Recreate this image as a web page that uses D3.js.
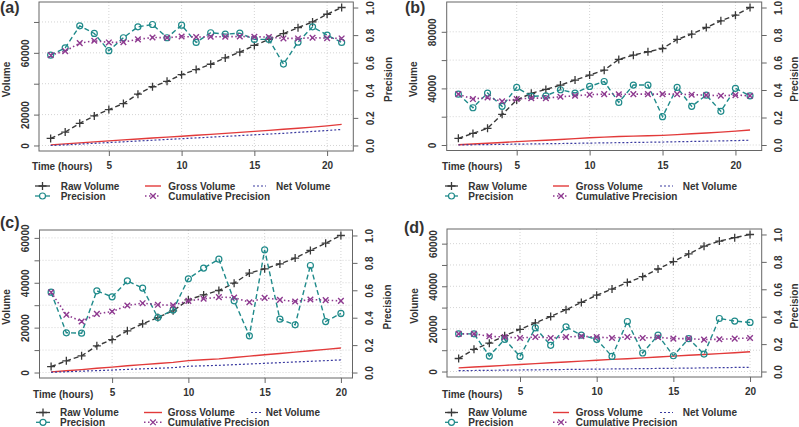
<!DOCTYPE html>
<html><head><meta charset="utf-8">
<script src="https://cdn.jsdelivr.net/npm/d3@7"></script>
<style>
body{margin:0;background:#fff}
svg{display:block}
text{font-family:"Liberation Sans",Arial,Helvetica,sans-serif;font-weight:bold;fill:#333}
</style></head>
<body><svg width="799" height="427"></svg>
<script>
// ---------------- DATA ----------------
const panelLabels = ["(a)", "(b)", "(c)", "(d)"];
const legendNames = ["Raw Volume", "Gross Volume", "Net Volume", "Precision", "Cumulative Precision"];
const xTickValues = [5, 10, 15, 20];
const xAxisTitle = "Time (hours)";
const yLeftTitle = "Volume";
const yRightTitle = "Precision";
const precTickValues = [0, 0.2, 0.4, 0.6, 0.8, 1.0];
const precTickLabels = ["0.0", "0.2", "0.4", "0.6", "0.8", "1.0"];

// panel (a)
const hoursA = [1,2,3,4,5,6,7,8,9,10,11,12,13,14,15,16,17,18,19,20,21];
const rawA = [4565,8700,14350,19130,23260,27170,33260,38040,41520,45870,49130,52600,56700,60430,64780,68700,72400,76300,80000,85000,89350];
const grossA = [400,1050,1700,2350,3000,3600,4200,4800,5400,6000,6600,7200,7850,8500,9150,9800,10500,11200,11900,12700,13700];
const netA = [0,400,900,1400,1900,2400,2900,3400,3900,4400,4900,5400,5900,6400,6900,7400,7900,8500,9100,9700,10400];
const precA = [0.655,0.708,0.867,0.812,0.687,0.781,0.860,0.877,0.781,0.872,0.747,0.817,0.807,0.814,0.769,0.769,0.590,0.749,0.860,0.800,0.747];
const cumA = [0.655,0.684,0.742,0.759,0.747,0.749,0.769,0.783,0.781,0.790,0.786,0.788,0.788,0.790,0.788,0.786,0.776,0.776,0.781,0.778,0.776];
const volTicksA = [0,20000,40000,60000,80000];
const volLabelsA = ["0","20000","","60000",""];

// panel (b)
const hoursB = [1,2,3,4,5,6,7,8,9,10,11,12,13,14,15,16,17,18,19,20,21];
const rawB = [4700,8200,11800,21650,31750,36500,39300,42350,45900,49400,52900,60500,63500,65900,68200,74600,78350,83050,87760,91760,97180];
const grossB = [200,700,1200,1800,2400,2900,3400,3900,4500,5100,5600,6000,6300,6500,6800,7300,7900,8500,9100,9800,10600];
const netB = [0,150,300,450,600,750,900,1050,1200,1350,1500,1650,1800,1950,2100,2300,2500,2700,2900,3100,3400];
const precB = [0.370,0.271,0.378,0.281,0.419,0.354,0.358,0.402,0.378,0.426,0.462,0.310,0.436,0.436,0.206,0.419,0.281,0.363,0.245,0.412,0.358];
const cumB = [0.370,0.334,0.346,0.317,0.334,0.341,0.341,0.351,0.358,0.366,0.370,0.368,0.370,0.370,0.370,0.370,0.366,0.363,0.358,0.363,0.358];
const volTicksB = [0,20000,40000,60000,80000];
const volLabelsB = ["0","","40000","","80000"];

// panel (c)
const hoursC = [1,2,3,4,5,6,7,8,9,10,11,12,13,14,15,16,17,18,19,20];
const rawC = [2670,5200,7430,11900,14700,18570,21700,24500,27500,32400,34600,36550,39800,44300,46200,48400,51000,54400,57650,61070];
const grossC = [300,800,1300,1900,2400,3000,3500,4000,4500,5300,5700,6100,6700,7300,7900,8500,9100,9700,10300,10900];
const netC = [100,350,600,850,1100,1400,1650,1900,2150,2800,3000,3200,3500,3800,4100,4400,4700,5000,5300,5600];
const precC = [0.586,0.290,0.287,0.596,0.552,0.669,0.616,0.401,0.457,0.684,0.762,0.827,0.523,0.268,0.895,0.389,0.348,0.781,0.372,0.431];
const cumC = [0.586,0.421,0.372,0.428,0.445,0.489,0.506,0.494,0.491,0.523,0.538,0.550,0.547,0.513,0.545,0.530,0.518,0.533,0.528,0.523];
const volTicksC = [0,10000,20000,30000,40000,50000,60000];
const volLabelsC = ["0","","20000","","40000","","60000"];

// panel (d)
const hoursD = [1,2,3,4,5,6,7,8,9,10,11,12,13,14,15,16,17,18,19,20];
const rawD = [6100,10400,13300,16800,19800,22800,25800,29000,32400,35800,38700,41800,44500,48100,51600,55200,58800,61200,62800,64300];
const grossD = [1700,2100,2500,2900,3300,3700,4100,4500,4900,5300,5700,6000,6400,6800,7200,7600,8000,8400,8800,9300];
const netD = [400,480,560,640,720,800,880,960,1040,1120,1200,1280,1360,1440,1520,1600,1700,1800,1900,2000];
const precD = [0.275,0.275,0.113,0.235,0.110,0.319,0.191,0.326,0.265,0.235,0.110,0.365,0.135,0.265,0.115,0.240,0.127,0.387,0.368,0.358];
const cumD = [0.275,0.275,0.257,0.252,0.245,0.252,0.245,0.252,0.257,0.252,0.245,0.252,0.245,0.250,0.240,0.240,0.233,0.235,0.240,0.245];
const volTicksD = [0,10000,20000,30000,40000,50000,60000];
const volLabelsD = ["0","","20000","","40000","","60000"];

// ---------------- STYLE / LAYOUT ----------------
const colors = {raw:"#3a3a3a", gross:"#e23a3a", net:"#3a3aa0", prec:"#1f8a8a", cum:"#8e3a90", frame:"#666", grid:"#d4d4d4"};

const layouts = [
  {box:{x0:39, x1:353.3, y0:2, y1:151}, lab:[0,13], time:[32,170],
   leg:{rows:[186,196], sym:[[35,50],[145,161],[253,266]], txt:[60.7,168.3,276]}},
  {box:{x0:446.7, x1:761.7, y0:2, y1:150.5}, lab:[405,13], time:[442,170],
   leg:{rows:[186,196], sym:[[445,458],[553,569],[660,673]], txt:[468.3,575.7,682.7]}},
  {box:{x0:39.5, x1:352.5, y0:230, y1:378}, lab:[0,228], time:[33,397.5],
   leg:{rows:[412.5,422.3], sym:[[36,50],[144,162],[251,263]], txt:[60,167.7,265.7]}},
  {box:{x0:447, x1:761.7, y0:229, y1:377}, lab:[404,233], time:[442,397.5],
   leg:{rows:[412.5,422.3], sym:[[445,458],[553,569],[660,673]], txt:[468.3,575.7,682.7]}}
];

const panels = [
  {hours:hoursA, raw:rawA, gross:grossA, net:netA, prec:precA, cum:cumA, vt:volTicksA, vl:volLabelsA},
  {hours:hoursB, raw:rawB, gross:grossB, net:netB, prec:precB, cum:cumB, vt:volTicksB, vl:volLabelsB},
  {hours:hoursC, raw:rawC, gross:grossC, net:netC, prec:precC, cum:cumC, vt:volTicksC, vl:volLabelsC},
  {hours:hoursD, raw:rawD, gross:grossD, net:netD, prec:precD, cum:cumD, vt:volTicksD, vl:volLabelsD}
];

const svg = d3.select("svg");

function plusPath(cx, cy, s){ return `M${cx-s},${cy}H${cx+s}M${cx},${cy-s}V${cy+s}`; }
function crossPath(cx, cy, s){ return `M${cx-s},${cy-s}L${cx+s},${cy+s}M${cx-s},${cy+s}L${cx+s},${cy-s}`; }

panels.forEach((p, i) => {
  const L = layouts[i], b = L.box;
  const g = svg.append("g");
  const n = p.hours.length;
  const span = p.hours[n-1] - p.hours[0];
  const x = d3.scaleLinear().domain([p.hours[0] - 0.04*span, p.hours[n-1] + 0.04*span]).range([b.x0, b.x1]);
  const vmax = d3.max(p.raw);
  const yV = d3.scaleLinear().domain([-0.04*vmax, 1.04*vmax]).range([b.y1, b.y0]);
  const yP = d3.scaleLinear().domain([-0.04, 1.04]).range([b.y1, b.y0]);

  // grid
  g.selectAll(".gx").data(xTickValues).enter().append("line")
    .attr("x1", d => x(d)).attr("x2", d => x(d)).attr("y1", b.y0).attr("y2", b.y1)
    .attr("stroke", colors.grid).attr("stroke-dasharray", "1,2").attr("stroke-width", 1);
  g.selectAll(".gy").data(p.vt).enter().append("line")
    .attr("x1", b.x0).attr("x2", b.x1).attr("y1", d => yV(d)).attr("y2", d => yV(d))
    .attr("stroke", colors.grid).attr("stroke-dasharray", "1,2").attr("stroke-width", 1);

  // axes
  const ax = g.append("g").attr("transform", `translate(0,${b.y1})`)
    .call(d3.axisBottom(x).tickValues(xTickValues).tickSize(5).tickPadding(6).tickFormat(d3.format("d")));
  ax.select(".domain").remove();
  ax.selectAll("line").attr("stroke", colors.frame);
  ax.selectAll("text").attr("font-size", 10).attr("fill", "#333");

  const ay = g.append("g").attr("transform", `translate(${b.x0},0)`)
    .call(d3.axisLeft(yV).tickValues(p.vt).tickSize(5).tickFormat((d, k) => p.vl[k]));
  ay.select(".domain").remove();
  ay.selectAll("line").attr("stroke", colors.frame);
  ay.selectAll("text").attr("font-size", 10).attr("fill", "#333")
    .attr("x", 0).attr("y", -10.5).attr("dy", 0).attr("text-anchor", "middle")
    .attr("transform", "rotate(-90)");

  const ap = g.append("g").attr("transform", `translate(${b.x1},0)`)
    .call(d3.axisRight(yP).tickValues(precTickValues).tickSize(5).tickFormat((d, k) => precTickLabels[k]));
  ap.select(".domain").remove();
  ap.selectAll("line").attr("stroke", colors.frame);
  ap.selectAll("text").attr("font-size", 10).attr("fill", "#333")
    .attr("x", 0).attr("y", 20.5).attr("dy", 0).attr("text-anchor", "middle")
    .attr("transform", "rotate(-90)");

  // frame
  g.append("rect").attr("x", b.x0).attr("y", b.y0).attr("width", b.x1 - b.x0).attr("height", b.y1 - b.y0)
    .attr("fill", "none").attr("stroke", colors.frame).attr("stroke-width", 1);

  // titles
  const midY = (b.y0 + b.y1) / 2 + 3;
  g.append("text").attr("transform", `translate(${b.x0 - 29.5},${midY}) rotate(-90)`)
    .attr("text-anchor", "middle").attr("font-size", 10).text(yLeftTitle);
  g.append("text").attr("transform", `translate(${Math.min(b.x1 + 38.5, 798)},${midY}) rotate(-90)`)
    .attr("text-anchor", "middle").attr("font-size", 10).text(yRightTitle);
  g.append("text").attr("x", L.time[0]).attr("y", L.time[1]).attr("font-size", 10).text(xAxisTitle);
  g.append("text").attr("x", L.lab[0]).attr("y", L.lab[1]).attr("font-size", 16).text(panelLabels[i]);

  const idx = d3.range(n);
  const lineV = arr => d3.line().x(k => x(p.hours[k])).y(k => yV(arr[k]))(idx);
  const lineP = arr => d3.line().x(k => x(p.hours[k])).y(k => yP(arr[k]))(idx);

  // raw volume
  g.append("path").attr("d", lineV(p.raw)).attr("fill", "none").attr("stroke", colors.raw)
    .attr("stroke-width", 1.4).attr("stroke-dasharray", "5,3");
  g.append("path").attr("d", idx.map(k => plusPath(x(p.hours[k]), yV(p.raw[k]), 4)).join(""))
    .attr("stroke", colors.raw).attr("stroke-width", 1.3).attr("fill", "none");
  // gross volume
  g.append("path").attr("d", lineV(p.gross)).attr("fill", "none").attr("stroke", colors.gross).attr("stroke-width", 1.4);
  // net volume
  g.append("path").attr("d", lineV(p.net)).attr("fill", "none").attr("stroke", colors.net)
    .attr("stroke-width", 1.2).attr("stroke-dasharray", "2,2");
  // precision
  g.append("path").attr("d", lineP(p.prec)).attr("fill", "none").attr("stroke", colors.prec)
    .attr("stroke-width", 1.4).attr("stroke-dasharray", "5,3");
  g.selectAll(".pc").data(idx).enter().append("circle")
    .attr("cx", k => x(p.hours[k])).attr("cy", k => yP(p.prec[k])).attr("r", 3)
    .attr("fill", "none").attr("stroke", colors.prec).attr("stroke-width", 1.2);
  // cumulative precision
  g.append("path").attr("d", lineP(p.cum)).attr("fill", "none").attr("stroke", colors.cum)
    .attr("stroke-width", 1.6).attr("stroke-dasharray", "1.5,2.5");
  g.append("path").attr("d", idx.map(k => crossPath(x(p.hours[k]), yP(p.cum[k]), 2.8)).join(""))
    .attr("stroke", colors.cum).attr("stroke-width", 1.4).attr("fill", "none");

  // legend
  const lg = L.leg;
  const r1 = lg.rows[0], r2 = lg.rows[1];
  g.append("line").attr("x1", lg.sym[0][0]).attr("x2", lg.sym[0][1]).attr("y1", r1).attr("y2", r1)
    .attr("stroke", colors.raw).attr("stroke-width", 1.3);
  g.append("path").attr("d", plusPath((lg.sym[0][0] + lg.sym[0][1]) / 2, r1, 4)).attr("stroke", colors.raw).attr("stroke-width", 1.3);
  g.append("text").attr("x", lg.txt[0]).attr("y", r1 + 3.5).attr("font-size", 10).text(legendNames[0]);
  g.append("line").attr("x1", lg.sym[1][0]).attr("x2", lg.sym[1][1]).attr("y1", r1).attr("y2", r1)
    .attr("stroke", colors.gross).attr("stroke-width", 1.4);
  g.append("text").attr("x", lg.txt[1]).attr("y", r1 + 3.5).attr("font-size", 10).text(legendNames[1]);
  g.append("line").attr("x1", lg.sym[2][0]).attr("x2", lg.sym[2][1]).attr("y1", r1).attr("y2", r1)
    .attr("stroke", colors.net).attr("stroke-width", 1.1).attr("stroke-dasharray", "2,2");
  g.append("text").attr("x", lg.txt[2]).attr("y", r1 + 3.5).attr("font-size", 10).text(legendNames[2]);
  g.append("line").attr("x1", lg.sym[0][0]).attr("x2", lg.sym[0][1]).attr("y1", r2).attr("y2", r2)
    .attr("stroke", colors.prec).attr("stroke-width", 1.3);
  g.append("circle").attr("cx", (lg.sym[0][0] + lg.sym[0][1]) / 2).attr("cy", r2).attr("r", 3)
    .attr("fill", "#fff").attr("stroke", colors.prec).attr("stroke-width", 1.2);
  g.append("text").attr("x", lg.txt[0]).attr("y", r2 + 3.5).attr("font-size", 10).text(legendNames[3]);
  g.append("line").attr("x1", lg.sym[1][0]).attr("x2", lg.sym[1][1]).attr("y1", r2).attr("y2", r2)
    .attr("stroke", colors.cum).attr("stroke-width", 1.4).attr("stroke-dasharray", "1.5,2.5");
  g.append("path").attr("d", crossPath((lg.sym[1][0] + lg.sym[1][1]) / 2, r2, 2.8)).attr("stroke", colors.cum).attr("stroke-width", 1.3);
  g.append("text").attr("x", lg.txt[1]).attr("y", r2 + 3.5).attr("font-size", 10).text(legendNames[4]);
});
</script></body></html>
